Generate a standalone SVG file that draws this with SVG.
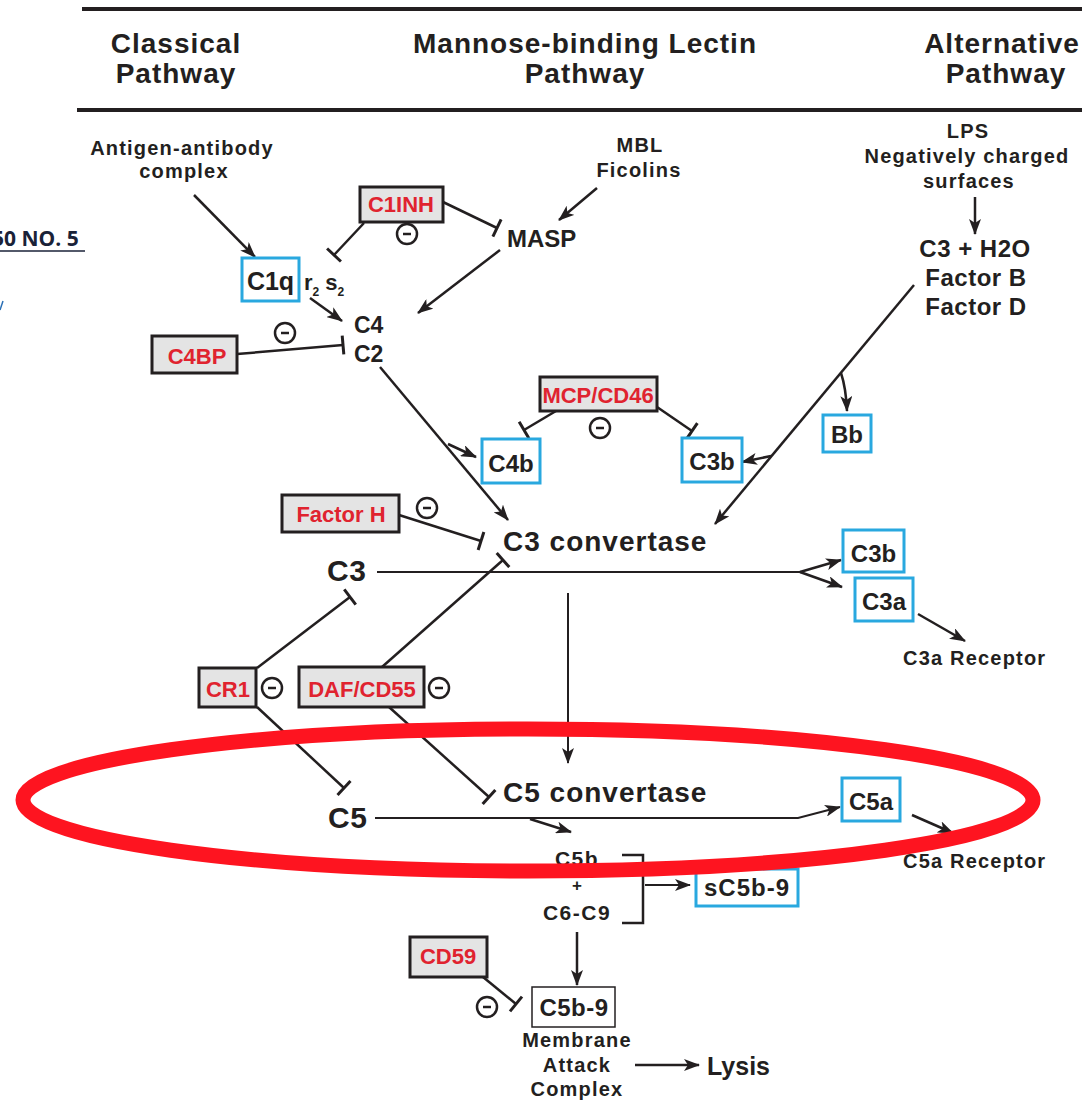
<svg xmlns="http://www.w3.org/2000/svg" width="1084" height="1102" viewBox="0 0 1084 1102">
<style>
.t{font-family:"Liberation Sans",Arial,Helvetica,sans-serif;font-weight:bold;fill:#231f20}
.n{font-weight:normal}
.hdr{font-size:28px;letter-spacing:1px}
.sm{font-size:20px;letter-spacing:1.2px}
.md{font-size:24px}
.lb{font-size:24px}
.rd{font-size:22px;fill:#e0232f}
.big{font-size:30px;letter-spacing:0.5px}
.cv{font-size:28px;letter-spacing:1px}
.bx{fill:#e4e4e4;stroke:#231f20;stroke-width:3}
.bl{fill:#fff;stroke:#29a8df;stroke-width:3}
.ln{stroke:#231f20;stroke-width:2.5;fill:none}
.thin{stroke:#231f20;stroke-width:2;fill:none}
.arr{marker-end:url(#ah)}
.inh{marker-end:url(#tb)}
.mi{fill:none;stroke:#231f20;stroke-width:2.5}
</style>
<defs>
<marker id="ah" viewBox="0 0 16 12" refX="15" refY="6" markerWidth="16" markerHeight="12" orient="auto" markerUnits="userSpaceOnUse">
<path d="M0,0 L16,6 L0,12 L4,6 z" fill="#231f20"/>
</marker>
<marker id="tb" viewBox="-2 -10 4 20" refX="0" refY="0" markerWidth="4" markerHeight="20" orient="auto" markerUnits="userSpaceOnUse">
<path d="M0,-9.5 V9.5" stroke="#231f20" stroke-width="3"/>
</marker>
<g id="minus"><circle r="10" class="mi"/><path d="M-4,0 H4" class="mi"/></g>
</defs>
<rect width="1084" height="1102" fill="#fff"/>

<g id="header">
<line x1="82" y1="9" x2="1082" y2="9" stroke="#231f20" stroke-width="4"/>
<line x1="77" y1="110" x2="1082" y2="110" stroke="#231f20" stroke-width="4"/>
<text class="t hdr" x="176" y="53" text-anchor="middle">Classical</text>
<text class="t hdr" x="176" y="83" text-anchor="middle">Pathway</text>
<text class="t hdr" x="585" y="53" text-anchor="middle">Mannose-binding Lectin</text>
<text class="t hdr" x="585" y="83" text-anchor="middle">Pathway</text>
<text class="t hdr" x="1002" y="53" text-anchor="middle">Alternative</text>
<text class="t hdr" x="1006" y="83" text-anchor="middle">Pathway</text>
</g>

<g id="page-fragment">
<text x="-8" y="246" font-family="'Open Sans','Liberation Sans',sans-serif" font-weight="bold" font-size="21" fill="#1a2238">50 NO. 5</text>
<line x1="0" y1="251" x2="85" y2="251" stroke="#1a2238" stroke-width="1.5"/>
<path d="M0,310 L3,301" stroke="#2a6fb5" stroke-width="1.5"/>
</g>

<g id="connectors">
<line class="ln arr" x1="194" y1="195" x2="255" y2="257"/>
<line class="ln inh" x1="364" y1="223" x2="334" y2="255"/>
<line class="ln inh" x1="443" y1="202" x2="497" y2="228"/>
<line class="ln arr" x1="597" y1="188" x2="559" y2="220"/>
<line class="ln arr" x1="500" y1="250" x2="418" y2="313"/>
<line class="ln arr" x1="310" y1="298" x2="342" y2="321"/>
<line class="ln inh" x1="237" y1="354" x2="343" y2="345"/>
<line class="ln arr" x1="380" y1="367" x2="508" y2="520"/>
<line class="ln arr" x1="448" y1="444" x2="476" y2="457"/>
<line class="ln inh" x1="556" y1="411" x2="524" y2="430"/>
<line class="ln inh" x1="657" y1="407" x2="692" y2="431"/>
<line class="ln arr" x1="975" y1="197" x2="975" y2="234"/>
<line class="ln arr" x1="914" y1="285" x2="715" y2="524"/>
<path class="ln arr" d="M841,373 Q846,388 847,411"/>
<line class="ln arr" x1="771" y1="456" x2="742" y2="462"/>
<line class="ln inh" x1="399" y1="515" x2="481" y2="541"/>
<line class="ln inh" x1="382" y1="667" x2="503" y2="560"/>
<line class="ln inh" x1="257" y1="668" x2="350" y2="597"/>
<line class="thin" x1="377" y1="572" x2="800" y2="572"/>
<line class="ln arr" x1="800" y1="572" x2="841" y2="560"/>
<line class="ln arr" x1="800" y1="572" x2="842" y2="587"/>
<line class="ln arr" x1="918" y1="614" x2="965" y2="641"/>
<line class="thin arr" x1="568" y1="593" x2="568" y2="763"/>
<line class="ln inh" x1="257" y1="707" x2="344" y2="788"/>
<line class="ln inh" x1="389" y1="707" x2="489" y2="797"/>
<polyline class="thin arr" points="375,818 798,818 840,807"/>
<line class="ln arr" x1="530" y1="819" x2="571" y2="832"/>
<line class="ln arr" x1="912" y1="815" x2="953" y2="833"/>
<path class="ln" d="M622,855 H643 V923 H622" stroke-width="3"/>
<line class="thin arr" x1="645" y1="885" x2="690" y2="885"/>
<line class="ln arr" x1="577" y1="932" x2="577" y2="985"/>
<line class="ln inh" x1="483" y1="977" x2="516" y2="1004"/>
<line class="ln arr" x1="635" y1="1065" x2="699" y2="1065"/>
</g>

<g id="antigen"><text class="t sm" x="182" y="155" text-anchor="middle">Antigen-antibody</text><text class="t sm" x="184" y="178" text-anchor="middle">complex</text></g>
<g id="C1q"><rect class="bl" x="242" y="258" width="57" height="43"/><text class="t" font-size="25" x="270.5" y="290" text-anchor="middle">C1q</text></g>
<g id="r2s2"><text class="t" font-size="22" x="304" y="290">r<tspan font-size="12" dy="6">2</tspan><tspan dy="-6"> s</tspan><tspan font-size="12" dy="6">2</tspan></text></g>
<g id="C1INH"><rect class="bx" x="360" y="187" width="83" height="35"/><text class="t rd" x="401" y="212" text-anchor="middle">C1INH</text><use href="#minus" x="407" y="234"/></g>
<g id="MASP"><text class="t md" x="507" y="247">MASP</text></g>
<g id="MBL"><text class="t sm" x="640" y="152" text-anchor="middle">MBL</text><text class="t sm" x="639" y="177" text-anchor="middle">Ficolins</text></g>
<g id="C4C2"><text class="t" font-size="23" x="354" y="333">C4</text><text class="t" font-size="23" x="354" y="362">C2</text></g>
<g id="C4BP"><rect class="bx" x="152" y="336" width="85" height="37"/><text class="t rd" x="197" y="364" text-anchor="middle">C4BP</text><use href="#minus" x="285" y="333"/></g>
<g id="MCP"><rect class="bx" x="540" y="377" width="117" height="34"/><text class="t rd" x="598" y="403" text-anchor="middle">MCP/CD46</text><use href="#minus" x="600" y="428"/></g>
<g id="C4b"><rect class="bl" x="482" y="439" width="58" height="44"/><text class="t lb" x="511" y="472" text-anchor="middle">C4b</text></g>
<g id="C3b-1"><rect class="bl" x="682" y="438" width="60" height="44"/><text class="t lb" x="712" y="470" text-anchor="middle">C3b</text></g>
<g id="LPS"><text class="t sm" x="968" y="138" text-anchor="middle">LPS</text><text class="t sm" x="967" y="163" text-anchor="middle">Negatively charged</text><text class="t sm" x="969" y="188" text-anchor="middle">surfaces</text></g>
<g id="C3H2O"><text class="t md" x="975" y="257" text-anchor="middle" letter-spacing="0.5">C3 + H2O</text><text class="t md" x="976" y="286" text-anchor="middle" letter-spacing="0.5">Factor B</text><text class="t md" x="976" y="315" text-anchor="middle" letter-spacing="0.5">Factor D</text></g>
<g id="Bb"><rect class="bl" x="823" y="415" width="48" height="37"/><text class="t lb" x="847" y="443" text-anchor="middle">Bb</text></g>
<g id="FactorH"><rect class="bx" x="282" y="495" width="117" height="37"/><text class="t rd" x="341" y="522" text-anchor="middle">Factor H</text><use href="#minus" x="427" y="508"/></g>
<g id="C3conv"><text class="t cv" x="503" y="551">C3 convertase</text></g>
<g id="C3"><text class="t big" x="327" y="581">C3</text></g>
<g id="C3b-2"><rect class="bl" x="843" y="530" width="61" height="42"/><text class="t lb" x="873.5" y="562" text-anchor="middle">C3b</text></g>
<g id="C3a"><rect class="bl" x="855" y="578" width="58" height="43"/><text class="t lb" x="884" y="610" text-anchor="middle">C3a</text></g>
<g id="C3aR"><text class="t sm" x="903" y="665" letter-spacing="1">C3a Receptor</text></g>
<g id="CR1"><rect class="bx" x="199" y="668" width="57" height="39"/><text class="t rd" x="228" y="697" text-anchor="middle">CR1</text><use href="#minus" x="272" y="688"/></g>
<g id="DAF"><rect class="bx" x="299" y="667" width="125" height="40"/><text class="t rd" x="362" y="697" text-anchor="middle">DAF/CD55</text><use href="#minus" x="439" y="688"/></g>
<g id="C5conv"><text class="t cv" x="503" y="802">C5 convertase</text></g>
<g id="C5"><text class="t big" x="328" y="828">C5</text></g>
<g id="C5a"><rect class="bl" x="842" y="778" width="58" height="43"/><text class="t lb" x="871" y="810" text-anchor="middle">C5a</text></g>
<g id="C5aR"><text class="t sm" x="903" y="868" letter-spacing="1">C5a Receptor</text></g>
<g id="C5b"><text class="t" font-size="21" x="577" y="866" text-anchor="middle" letter-spacing="1.5">C5b</text><text class="t" font-size="17" x="577" y="891" text-anchor="middle">+</text><text class="t" font-size="21" x="577" y="920" text-anchor="middle" letter-spacing="1.5">C6-C9</text></g>
<g id="sC5b9"><rect class="bl" x="696" y="869" width="102" height="37"/><text class="t lb" x="747" y="896" text-anchor="middle" letter-spacing="1">sC5b-9</text></g>
<g id="CD59"><rect class="bx" x="410" y="937" width="77" height="40"/><text class="t rd" x="448" y="964" text-anchor="middle">CD59</text><use href="#minus" x="487" y="1007"/></g>
<g id="C5b9"><rect x="532" y="987" width="83" height="40" fill="none" stroke="#231f20" stroke-width="1.5"/><text class="t" font-size="24" x="574" y="1016" text-anchor="middle" letter-spacing="0.5">C5b-9</text></g>
<g id="MAC"><text class="t sm" x="577" y="1047" text-anchor="middle">Membrane</text><text class="t sm" x="577" y="1072" text-anchor="middle">Attack</text><text class="t sm" x="577" y="1096" text-anchor="middle">Complex</text></g>
<g id="Lysis"><text class="t" font-size="25" x="707" y="1075">Lysis</text></g>

<g id="highlight"><ellipse cx="528" cy="800" rx="505" ry="71" fill="none" stroke="#fe1420" stroke-width="15"/></g>
</svg>
